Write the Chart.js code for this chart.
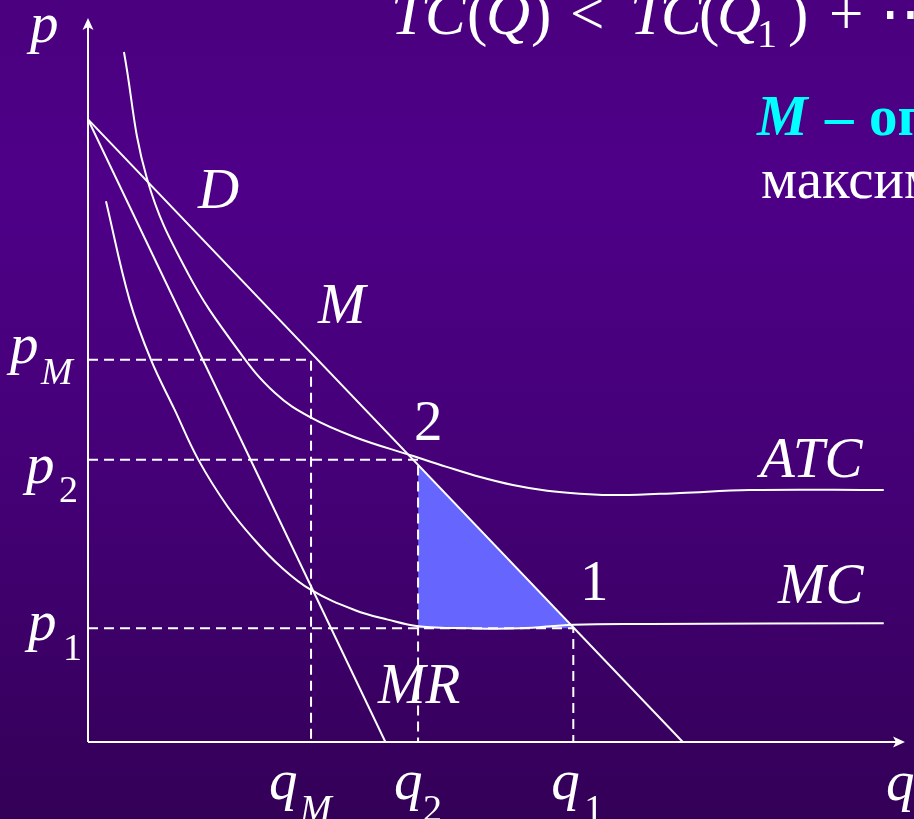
<!DOCTYPE html>
<html>
<head>
<meta charset="utf-8">
<script src="https://cdn.jsdelivr.net/npm/chart.js@4.4.1/dist/chart.umd.min.js"></script>
<style>
  html, body { margin: 0; padding: 0; background: #3f006c; }
  canvas { display: block; }
</style>
</head>
<body>
<canvas id="chart" width="914" height="819"></canvas>
<script>
// Demand line and marginal revenue (both start from the same price intercept)
const demandQ = [0, 72.8];
const demandP = [86.0, 0];
const mrQ = [0, 36.4];
const mrP = [86.0, 0];

// Average total cost
const atcQ = [4.4, 7.2, 12.2, 18.4, 22.9, 27.3, 32.7, 39.8, 43.9, 48.0, 52.0, 56.2, 60.2, 65.1, 72.5, 81.0, 97.4];
const atcP = [95.3, 77.9, 64.8, 54.1, 48.2, 44.8, 42.1, 39.5, 38.0, 36.6, 35.5, 34.7, 34.3, 34.1, 34.4, 34.8, 34.8];

// Marginal cost
const mcQ = [2.2, 5.1, 7.7, 10.6, 13.5, 17.1, 20.4, 23.6, 27.3, 32.7, 36.7, 40.4, 46.8, 52.9, 59.4, 68.8, 97.4];
const mcP = [74.7, 61.0, 52.8, 45.9, 39.0, 32.5, 27.9, 24.2, 21.0, 18.2, 16.9, 16.0, 15.7, 15.7, 16.2, 16.3, 16.4];

// Marked quantities and prices
const qM = 27.3, q2 = 40.4, q1 = 59.4;
const pM = 52.8, p2 = 39.0, p1 = 15.7;

// Shaded triangle between point 2 and point 1
const gainQ = [40.4, 59.4];
const gainP = [38.3, 15.7];

const FONT = '"Liberation Serif", "Times New Roman", serif';
const WHITE = '#ffffff';

const toPoints = (xs, ys) => xs.map((x, i) => ({ x: x, y: ys[i] }));

function lineSet(xs, ys, extra) {
    return Object.assign({
        data: toPoints(xs, ys),
        showLine: true,
        borderColor: WHITE,
        borderWidth: 2,
        pointRadius: 0,
        fill: false,
        order: 1,
    }, extra || {});
}

function guide(q, p) {
    return lineSet([0, q, q], [p, p, 0], { borderDash: [10, 6], borderWidth: 2 });
}

const backgroundPlugin = {
    id: 'background',
    beforeDraw(chart) {
        const ctx = chart.ctx;
        const g = ctx.createLinearGradient(0, 0, 0, chart.height);
        g.addColorStop(0, '#4a007e');
        g.addColorStop(0.22, '#4e0088');
        g.addColorStop(0.6, '#440075');
        g.addColorStop(1, '#330057');
        ctx.save();
        ctx.fillStyle = g;
        ctx.fillRect(0, 0, chart.width, chart.height);
        ctx.restore();
    },
};

function arrowHead(ctx, x, y, dir) {
    // dir: 'up' or 'right'
    ctx.save();
    ctx.translate(x, y);
    if (dir === 'right') ctx.rotate(Math.PI / 2);
    ctx.beginPath();
    ctx.moveTo(0, 0);
    ctx.lineTo(-5.5, 12);
    ctx.lineTo(0, 9);
    ctx.lineTo(5.5, 12);
    ctx.closePath();
    ctx.fillStyle = WHITE;
    ctx.fill();
    ctx.restore();
}

const axesPlugin = {
    id: 'arrowAxes',
    beforeDatasetsDraw(chart) {
        const { ctx, scales: { x, y } } = chart;
        const x0 = x.getPixelForValue(0);
        const y0 = y.getPixelForValue(0);
        const top = y.getPixelForValue(100);
        const right = x.getPixelForValue(100);
        ctx.save();
        ctx.strokeStyle = WHITE;
        ctx.lineWidth = 2;
        ctx.beginPath();
        ctx.moveTo(x0, y0);
        ctx.lineTo(x0, top + 4);
        ctx.moveTo(x0, y0);
        ctx.lineTo(right - 4, y0);
        ctx.stroke();
        ctx.restore();
        arrowHead(ctx, x0, top, 'up');
        arrowHead(ctx, right, y0, 'right');
    },
};

function text(ctx, str, px, py, font, color) {
    ctx.font = font;
    ctx.fillStyle = color || WHITE;
    ctx.fillText(str, px, py);
}

const ITAL = '57px ' + FONT;
const labelsPlugin = {
    id: 'labels',
    afterDraw(chart) {
        const { ctx, scales: { x, y } } = chart;
        const it = 'italic ' + ITAL;
        const sub = 'italic 38px ' + FONT;
        const subUp = '38px ' + FONT;
        ctx.save();
        ctx.textBaseline = 'alphabetic';
        ctx.textAlign = 'left';

        // axis names
        text(ctx, 'p', 30, 42, it);
        text(ctx, 'q', 886, 800, it);

        // curve names
        text(ctx, 'D', 198, 208, it);
        text(ctx, 'M', 318, 323, it);
        text(ctx, 'MR', 378, 703, it);
        text(ctx, 'ATC', 760, 477, it);
        text(ctx, 'MC', 778, 603, it);
        text(ctx, '2', 414, 440, ITAL);
        text(ctx, '1', 580, 600, ITAL);

        // price marks
        const yM = y.getPixelForValue(pM), y2 = y.getPixelForValue(p2), y1 = y.getPixelForValue(p1);
        text(ctx, 'p', 10, yM + 3, it);
        text(ctx, 'M', 41, yM + 24, sub);
        text(ctx, 'p', 26, y2 + 23, it);
        text(ctx, '2', 59, y2 + 42, subUp);
        text(ctx, 'p', 28, y1 + 12, it);
        text(ctx, '1', 63, y1 + 32, subUp);

        // quantity marks
        const base = y.getPixelForValue(0);
        const xM = x.getPixelForValue(qM), x2 = x.getPixelForValue(q2), x1 = x.getPixelForValue(q1);
        text(ctx, 'q', xM - 42, base + 57, it);
        text(ctx, 'M', xM - 11, base + 79, sub);
        text(ctx, 'q', x2 - 24, base + 57, it);
        text(ctx, '2', x2 + 5, base + 79, subUp);
        text(ctx, 'q', x1 - 22, base + 57, it);
        text(ctx, '1', x1 + 11, base + 79, subUp);

        // formula along the top edge
        const fi = 'italic 61px ' + FONT;
        const fu = '61px ' + FONT;
        text(ctx, 'T', 391, 34, fi);
        text(ctx, 'C', 425, 34, fi);
        text(ctx, '(', 467, 34, fu);
        text(ctx, 'Q', 486, 34, fi);
        text(ctx, ')', 531, 34, fu);
        text(ctx, '<', 570, 34, fu);
        text(ctx, 'T', 630, 34, fi);
        text(ctx, 'C', 661, 34, fi);
        text(ctx, '(', 699, 34, fu);
        text(ctx, 'Q', 717, 34, fi);
        text(ctx, '1', 757, 47, '40px ' + FONT);
        text(ctx, ')', 788, 34, fu);
        text(ctx, '+', 829, 34, fu);
        text(ctx, '\u22EF', 880, 34, fu);

        // note on the right
        text(ctx, 'M', 757, 135, 'italic bold 57px ' + FONT, '#00ffff');
        text(ctx, '\u2013', 825, 135, 'bold 57px ' + FONT, '#00ffff');
        text(ctx, 'оп', 869, 135, 'bold 57px ' + FONT, '#00ffff');
        text(ctx, 'максим', 761, 198, '57px ' + FONT);

        ctx.restore();
    },
};

new Chart(document.getElementById('chart'), {
    type: 'scatter',
    data: {
        datasets: [
            lineSet(gainQ, gainP, {
                borderWidth: 0,
                borderColor: 'rgba(0,0,0,0)',
                backgroundColor: '#6666ff',
                fill: { value: p1 },
                order: 5,
            }),
            guide(qM, pM),
            guide(q2, p2),
            guide(q1, p1),
            lineSet(demandQ, demandP),
            lineSet(mrQ, mrP),
            lineSet(atcQ, atcP, { tension: 0.4 }),
            lineSet(mcQ, mcP, { tension: 0.4 }),
        ],
    },
    options: {
        responsive: false,
        animation: false,
        devicePixelRatio: 1,
        events: [],
        layout: { padding: { left: 88, right: 9, top: 18, bottom: 77 } },
        scales: {
            x: { type: 'linear', min: 0, max: 100, display: false },
            y: { type: 'linear', min: 0, max: 100, display: false },
        },
        plugins: {
            legend: { display: false },
            tooltip: { enabled: false },
        },
    },
    plugins: [backgroundPlugin, axesPlugin, labelsPlugin],
});
</script>
</body>
</html>
